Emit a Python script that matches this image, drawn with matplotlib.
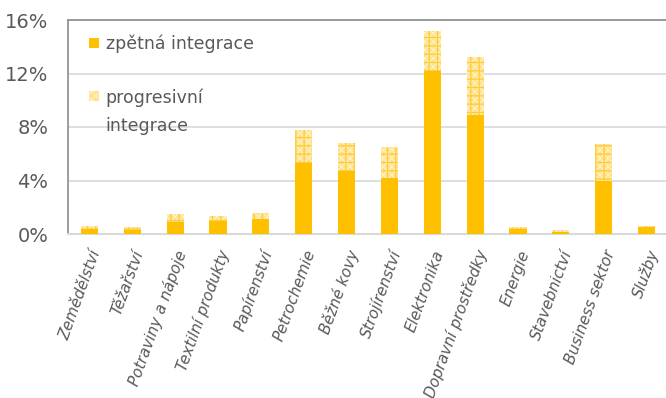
import matplotlib
matplotlib.use("Agg")
import matplotlib.pyplot as plt
from matplotlib.patches import Rectangle
from matplotlib.transforms import ScaledTranslation

# Podíl zpětné a progresivní integrace podle odvětví (v %)
sectors = [
    "Zemědělství", "Těžařství", "Potraviny a nápoje", "Textilní produkty",
    "Papírenství", "Petrochemie", "Běžné kovy", "Strojírenství",
    "Elektronika", "Dopravní prostředky", "Energie", "Stavebnictví",
    "Business sektor", "Služby",
]
backward = [0.40, 0.31, 0.88, 1.00, 1.10, 5.30, 4.68, 4.18,
            12.20, 8.89, 0.38, 0.12, 3.98, 0.50]
forward = [0.17, 0.25, 0.60, 0.38, 0.50, 2.47, 2.11, 2.31,
           3.00, 4.34, 0.17, 0.15, 2.73, 0.07]
yticks = [0, 4, 8, 12, 16]

SOLID = "#FFC000"
LIGHT = "#FFE18C"
DOTS = "#FFF2C4"
GRID_HATCH = "#FFCB30"
TEXT = "#595959"

plt.rcParams["font.family"] = ["DejaVu Sans"]
plt.rcParams["hatch.linewidth"] = 0.8


def patterned(ax, xs, heights, bottoms, width):
    """Light checker texture with a grid on top, like a pattern fill."""
    ax.bar(xs, heights, width=width, bottom=bottoms, facecolor=LIGHT,
           edgecolor=DOTS, hatch="xxxx", linewidth=0, zorder=3)
    ax.bar(xs, heights, width=width, bottom=bottoms, facecolor="none",
           edgecolor=GRID_HATCH, hatch="++", linewidth=0, zorder=4)


fig = plt.figure(figsize=(6.66, 3.98), dpi=100)
ax = fig.add_axes([68 / 666, 1 - 234 / 398, 600 / 666, 214 / 398])

x = list(range(len(sectors)))
ax.bar(x, backward, width=0.4, color=SOLID, linewidth=0, zorder=3)
patterned(ax, x, forward, backward, 0.4)

ax.set_xlim(-0.5, len(sectors) - 0.5)
ax.set_ylim(0, 16)
ax.set_yticks(yticks)
ax.set_yticklabels([f"{t}%" for t in yticks], fontsize=14, color=TEXT)
ax.set_xticks(x)
ax.set_xticklabels(sectors, rotation=70, ha="right", rotation_mode="anchor",
                   fontsize=11, style="italic", color=TEXT)
shift = ScaledTranslation(-0.11, 0, fig.dpi_scale_trans)
for lbl in ax.get_xticklabels():
    lbl.set_transform(lbl.get_transform() + shift)
ax.tick_params(axis="y", length=0, pad=14)
ax.tick_params(axis="x", length=0, pad=10)

ax.grid(axis="y", color="#D9D9D9", linewidth=1.2, zorder=0)
ax.spines["right"].set_visible(False)
ax.spines["top"].set_color("#8C8C8C")
ax.spines["top"].set_linewidth(1.2)
ax.spines["left"].set_color("#8C8C8C")
ax.spines["left"].set_linewidth(1.2)
ax.spines["bottom"].set_color("#D9D9D9")
ax.spines["bottom"].set_linewidth(1.5)

# legend drawn by hand so the swatch sits next to the first line
sw, sh = 10 / 600, 10 / 214
ax.add_patch(Rectangle((0.035, 0.869), sw, sh, transform=ax.transAxes,
                       facecolor=SOLID, linewidth=0, zorder=5))
ax.text(0.063, 0.890, "zpětná integrace", transform=ax.transAxes,
        fontsize=12.5, color=TEXT, va="center", ha="left", zorder=5)
ax.add_patch(Rectangle((0.035, 0.622), sw, sh, transform=ax.transAxes,
                       facecolor=LIGHT, edgecolor=DOTS, hatch="xxxx",
                       linewidth=0, zorder=5))
ax.text(0.063, 0.680, "progresivní\nintegrace", transform=ax.transAxes,
        fontsize=12.5, color=TEXT, va="top", ha="left", linespacing=1.75,
        zorder=5)

fig.savefig("out.png", dpi=100)
